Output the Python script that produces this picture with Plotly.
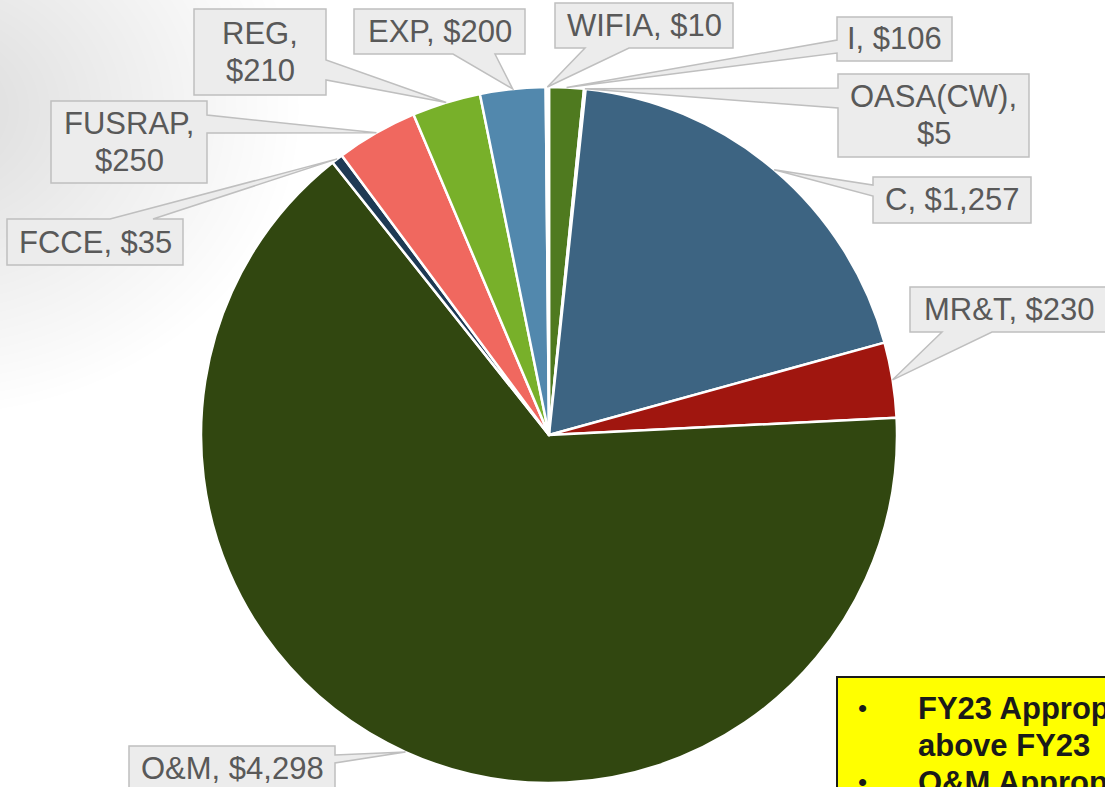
import math
import plotly.graph_objects as go

# ---------------- data ----------------
labels = ["I", "OASA(CW)", "C", "MR&T", "O&M", "FCCE", "FUSRAP", "REG", "EXP", "WIFIA"]
values = [106, 5, 1257, 230, 4298, 35, 250, 210, 200, 10]
label_text = ["I, $106", "OASA(CW),<br>$5", "C, $1,257", "MR&T, $230", "O&M, $4,298",
              "FCCE, $35", "FUSRAP,<br>$250", "REG,<br>$210", "EXP, $200", "WIFIA, $10"]
colors = ["#4F7A1F", "#EFEFEF", "#3D6482", "#A0160F", "#314710",
          "#1E3A54", "#F0685F", "#78B02A", "#5288AD", "#FFFFFF"]
note_lines = ["FY23 Appropriations", "above FY23", "O&M Appropriations"]
note_bullets = [True, False, True]

# ---------------- layout (pixels) ----------------
W, H = 1105, 787
CX, CY, R = 549, 435, 348
LABEL_SIZE = 31
LINE_GAP = 37

def px(x):
    return x / W

def py(y):
    return 1 - y / H

# callout boxes: (x0, y0, x1, y1, side, base_a, base_b)
callouts = {
    "I":        (837, 17, 952, 61, "left", 40, 53),
    "OASA(CW)": (838, 74, 1029, 157, "left", 88, 108),
    "C":        (873, 177, 1031, 223, "left", 185, 196),
    "MR&T":     (910, 287, 1108, 332, "bottom", 942, 992),
    "O&M":      (129, 746, 335, 790, "right", 755, 763),
    "FCCE":     (7, 219, 183, 265, "top", 110, 153),
    "FUSRAP":   (51, 101, 207, 183, "right", 115, 133),
    "REG":      (194, 9, 326, 95, "right", 60, 80),
    "EXP":      (354, 9, 525, 54, "bottom", 453, 495),
    "WIFIA":    (555, 3, 733, 48, "bottom", 585, 629),
}

fig = go.Figure()

fig.add_trace(go.Pie(
    labels=labels, values=values, sort=False, direction="clockwise", rotation=0,
    marker=dict(colors=colors, line=dict(color="#FFFFFF", width=2.5)),
    textinfo="none", hoverinfo="label+value", showlegend=False,
    domain=dict(x=[px(CX - R), px(CX + R)], y=[py(CY + R), py(CY - R)]),
))

shapes = []
# soft gray shadow in top-left corner
N = 30
for i in range(N):
    rr = 60 + i * 9
    cxs, cys = -70, 110
    shapes.append(dict(type="circle", xref="paper", yref="paper",
                       x0=px(cxs - rr * 1.15), x1=px(cxs + rr * 1.15),
                       y0=py(cys + rr * 0.95), y1=py(cys - rr * 0.95),
                       fillcolor="rgba(0,0,0,0.0045)", line=dict(width=0), layer="below"))

total = sum(values)
annotations = []
cum = 0
for lab, val, txt in zip(labels, values, label_text):
    mid = (cum + val / 2) / total * 2 * math.pi
    cum += val
    tx, ty = CX + R * math.sin(mid), CY - R * math.cos(mid)
    x0, y0, x1, y1, side, a, b = callouts[lab]
    pts = [(x0, y0)]
    if side == "top":
        pts += [(a, y0), (tx, ty), (b, y0)]
    pts.append((x1, y0))
    if side == "right":
        pts += [(x1, a), (tx, ty), (x1, b)]
    pts.append((x1, y1))
    if side == "bottom":
        pts += [(b, y1), (tx, ty), (a, y1)]
    pts.append((x0, y1))
    if side == "left":
        pts += [(x0, b), (tx, ty), (x0, a)]
    path = "M " + " L ".join(f"{px(x):.5f},{py(y):.5f}" for x, y in pts) + " Z"
    shapes.append(dict(type="path", xref="paper", yref="paper", path=path,
                       fillcolor="#ECECEC", line=dict(color="#BFBFBF", width=1.5)))
    parts = txt.split("<br>")
    yc = (y0 + y1) / 2
    for k, part in enumerate(parts):
        yk = yc + (k - (len(parts) - 1) / 2) * LINE_GAP
        annotations.append(dict(x=px((x0 + x1) / 2), y=py(yk), xref="paper", yref="paper",
                                text=part, showarrow=False, xanchor="center", yanchor="middle",
                                font=dict(family="Liberation Sans, Arial", size=LABEL_SIZE,
                                          color="#595959")))

# yellow note box
shapes.append(dict(type="rect", xref="paper", yref="paper",
                   x0=px(837), x1=px(1115), y0=py(805), y1=py(677),
                   fillcolor="#FFFF00", line=dict(color="#1A1A1A", width=2)))
for i, (line, bul) in enumerate(zip(note_lines, note_bullets)):
    yb = 708 + i * 37
    if bul:
        annotations.append(dict(x=px(862), y=py(yb), xref="paper", yref="paper", text="•",
                                showarrow=False, xanchor="center", yanchor="middle",
                                font=dict(family="Liberation Sans, Arial", size=26, color="#1A1A1A")))
    annotations.append(dict(x=px(916), y=py(yb), xref="paper", yref="paper", text=f"<b>{line}</b>",
                            showarrow=False, xanchor="left", yanchor="middle",
                            font=dict(family="Liberation Sans, Arial", size=31, color="#1A1A1A")))

fig.update_layout(
    width=W, height=H, margin=dict(l=0, r=0, t=0, b=0),
    paper_bgcolor="#FFFFFF", plot_bgcolor="#FFFFFF",
    shapes=shapes, annotations=annotations,
)

fig.write_html("out.html", config={"displayModeBar": False},
               post_script="document.body.style.margin='0';")
